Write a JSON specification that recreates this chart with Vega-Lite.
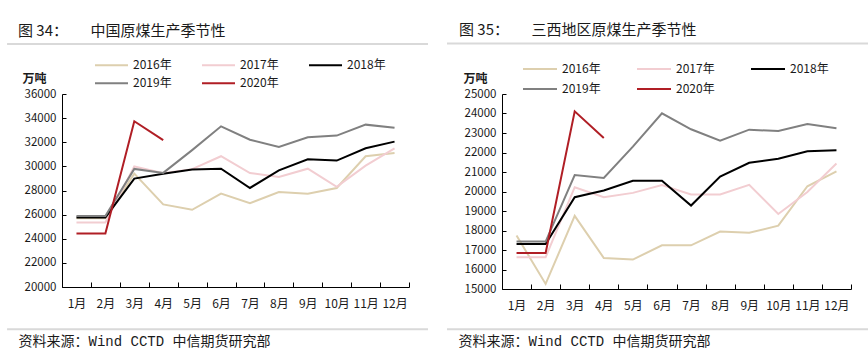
{
  "$schema": "https://vega.github.io/schema/vega-lite/v6.json",
  "autosize": {"type": "none"},
  "padding": {"left": 62, "top": 94, "right": 806, "bottom": 264},
  "background": "white",
  "bounds": "flush",
  "spacing": 93,
  "resolve": {"scale": {"color": "independent"}, "legend": {"color": "independent"}},
  "config": {
    "font": "Noto Sans CJK SC",
    "view": {"stroke": null},
    "axis": {"grid": false, "domainColor": "#000000", "tickColor": "#000000", "labelColor": "#1a1a1a", "labelFont": "Noto Sans CJK SC", "tickCount": 100, "labelOverlap": false},
    "legend": {"orient": "none", "direction": "horizontal", "title": null, "symbolType": "stroke", "symbolStrokeWidth": 2, "labelFontSize": 12, "labelOffset": 4, "labelColor": "#1a1a1a", "labelFont": "Noto Sans CJK SC"},
    "title": {"font": "Noto Sans CJK SC", "fontSize": 15, "fontWeight": "normal", "color": "#1a1a1a", "anchor": "start", "frame": "group"}
  },
  "datasets": {
    "cn": [
      {"year": "2016年", "month": 1, "value": 25700}, {"year": "2016年", "month": 2, "value": 25700}, {"year": "2016年", "month": 3, "value": 29400}, {"year": "2016年", "month": 4, "value": 26850}, {"year": "2016年", "month": 5, "value": 26400}, {"year": "2016年", "month": 6, "value": 27740}, {"year": "2016年", "month": 7, "value": 26950}, {"year": "2016年", "month": 8, "value": 27880}, {"year": "2016年", "month": 9, "value": 27740}, {"year": "2016年", "month": 10, "value": 28210}, {"year": "2016年", "month": 11, "value": 30840}, {"year": "2016年", "month": 12, "value": 31110},
      {"year": "2017年", "month": 1, "value": 25350}, {"year": "2017年", "month": 2, "value": 25350}, {"year": "2017年", "month": 3, "value": 29990}, {"year": "2017年", "month": 4, "value": 29430}, {"year": "2017年", "month": 5, "value": 29770}, {"year": "2017年", "month": 6, "value": 30840}, {"year": "2017年", "month": 7, "value": 29450}, {"year": "2017年", "month": 8, "value": 29120}, {"year": "2017年", "month": 9, "value": 29810}, {"year": "2017年", "month": 10, "value": 28300}, {"year": "2017年", "month": 11, "value": 30060}, {"year": "2017年", "month": 12, "value": 31500},
      {"year": "2018年", "month": 1, "value": 25770}, {"year": "2018年", "month": 2, "value": 25770}, {"year": "2018年", "month": 3, "value": 28990}, {"year": "2018年", "month": 4, "value": 29380}, {"year": "2018年", "month": 5, "value": 29740}, {"year": "2018年", "month": 6, "value": 29810}, {"year": "2018年", "month": 7, "value": 28210}, {"year": "2018年", "month": 8, "value": 29670}, {"year": "2018年", "month": 9, "value": 30590}, {"year": "2018年", "month": 10, "value": 30480}, {"year": "2018年", "month": 11, "value": 31500}, {"year": "2018年", "month": 12, "value": 32050},
      {"year": "2019年", "month": 1, "value": 25880}, {"year": "2019年", "month": 2, "value": 25880}, {"year": "2019年", "month": 3, "value": 29790}, {"year": "2019年", "month": 4, "value": 29460}, {"year": "2019年", "month": 5, "value": 31350}, {"year": "2019年", "month": 6, "value": 33320}, {"year": "2019年", "month": 7, "value": 32210}, {"year": "2019年", "month": 8, "value": 31610}, {"year": "2019年", "month": 9, "value": 32410}, {"year": "2019年", "month": 10, "value": 32550}, {"year": "2019年", "month": 11, "value": 33460}, {"year": "2019年", "month": 12, "value": 33210},
      {"year": "2020年", "month": 1, "value": 24440}, {"year": "2020年", "month": 2, "value": 24440}, {"year": "2020年", "month": 3, "value": 33740}, {"year": "2020年", "month": 4, "value": 32170}
    ],
    "sx": [
      {"year": "2016年", "month": 1, "value": 17740}, {"year": "2016年", "month": 2, "value": 15260}, {"year": "2016年", "month": 3, "value": 18750}, {"year": "2016年", "month": 4, "value": 16590}, {"year": "2016年", "month": 5, "value": 16510}, {"year": "2016年", "month": 6, "value": 17240}, {"year": "2016年", "month": 7, "value": 17240}, {"year": "2016年", "month": 8, "value": 17950}, {"year": "2016年", "month": 9, "value": 17880}, {"year": "2016年", "month": 10, "value": 18250}, {"year": "2016年", "month": 11, "value": 20270}, {"year": "2016年", "month": 12, "value": 21030},
      {"year": "2017年", "month": 1, "value": 16630}, {"year": "2017年", "month": 2, "value": 16630}, {"year": "2017年", "month": 3, "value": 20220}, {"year": "2017年", "month": 4, "value": 19710}, {"year": "2017年", "month": 5, "value": 19930}, {"year": "2017年", "month": 6, "value": 20330}, {"year": "2017年", "month": 7, "value": 19850}, {"year": "2017年", "month": 8, "value": 19850}, {"year": "2017年", "month": 9, "value": 20340}, {"year": "2017年", "month": 10, "value": 18850}, {"year": "2017年", "month": 11, "value": 19970}, {"year": "2017年", "month": 12, "value": 21440},
      {"year": "2018年", "month": 1, "value": 17310}, {"year": "2018年", "month": 2, "value": 17310}, {"year": "2018年", "month": 3, "value": 19710}, {"year": "2018年", "month": 4, "value": 20050}, {"year": "2018年", "month": 5, "value": 20550}, {"year": "2018年", "month": 6, "value": 20550}, {"year": "2018年", "month": 7, "value": 19280}, {"year": "2018年", "month": 8, "value": 20770}, {"year": "2018年", "month": 9, "value": 21470}, {"year": "2018年", "month": 10, "value": 21680}, {"year": "2018年", "month": 11, "value": 22060}, {"year": "2018年", "month": 12, "value": 22110},
      {"year": "2019年", "month": 1, "value": 17430}, {"year": "2019年", "month": 2, "value": 17430}, {"year": "2019年", "month": 3, "value": 20840}, {"year": "2019年", "month": 4, "value": 20690}, {"year": "2019年", "month": 5, "value": 22300}, {"year": "2019年", "month": 6, "value": 24010}, {"year": "2019年", "month": 7, "value": 23190}, {"year": "2019年", "month": 8, "value": 22600}, {"year": "2019年", "month": 9, "value": 23170}, {"year": "2019年", "month": 10, "value": 23100}, {"year": "2019年", "month": 11, "value": 23460}, {"year": "2019年", "month": 12, "value": 23240},
      {"year": "2020年", "month": 1, "value": 16850}, {"year": "2020年", "month": 2, "value": 16850}, {"year": "2020年", "month": 3, "value": 24110}, {"year": "2020年", "month": 4, "value": 22740}
    ]
  },
  "hconcat": [
    {
      "width": 347,
      "height": 193,
      "title": {"text": "图 34：\u3000\u3000中国原煤生产季节性", "dx": -44, "offset": 4},
      "resolve": {"scale": {"color": "independent"}, "legend": {"color": "independent"}},
      "layer": [
        {
          "data": {"name": "cn"},
          "transform": [{"filter": {"field": "year", "oneOf": ["2016年", "2017年", "2018年"]}}],
          "mark": {"type": "line", "strokeWidth": 2},
          "encoding": {
            "x": {
              "field": "month", "type": "quantitative",
              "scale": {"domain": [0.5, 12.5], "nice": false, "zero": false},
              "axis": {
                "values": [0.5, 1, 1.5, 2, 2.5, 3, 3.5, 4, 4.5, 5, 5.5, 6, 6.5, 7, 7.5, 8, 8.5, 9, 9.5, 10, 10.5, 11, 11.5, 12, 12.5],
                "labelExpr": "datum.value % 1 == 0 ? datum.value + '月' : ''",
                "labelOverlap": false, "labelFlush": false, "tickCount": 100,
                "labelFontSize": 12, "labelPadding": 16,
                "tickSize": -5,
                "tickOpacity": {"condition": {"test": "datum.value % 1 != 0", "value": 1}, "value": 0},
                "title": "资料来源：Wind CCTD 中信期货研究部",
                "titleX": -44, "titleY": 54, "titleAlign": "left", "titleBaseline": "middle",
                "titleFont": "Liberation Mono, Noto Sans CJK SC", "titleFontSize": 14, "titleFontWeight": "normal", "titleColor": "#1a1a1a"
              }
            },
            "y": {
              "field": "value", "type": "quantitative",
              "scale": {"domain": [20000, 36000], "nice": false, "zero": false},
              "axis": {
                "values": [20000, 22000, 24000, 26000, 28000, 30000, 32000, 34000, 36000],
                "format": "d", "labelFontSize": 11.5, "labelPadding": 10, "tickSize": -4, "tickCount": 100, "labelOverlap": false,
                "title": "万吨", "titleAngle": 0, "titleX": -40, "titleY": -16, "titleAlign": "left", "titleBaseline": "middle",
                "titleFontSize": 12, "titleFontWeight": "bold", "titleColor": "#1a1a1a"
              }
            },
            "color": {
              "field": "year", "type": "nominal",
              "scale": {"domain": ["2016年", "2017年", "2018年"], "range": ["#ddcfae", "#f2cdd1", "#000000"]},
              "legend": {"legendX": 32, "legendY": -46.5, "symbolSize": 1089, "columnPadding": 26}
            }
          }
        },
        {
          "data": {"name": "cn"},
          "transform": [{"filter": {"field": "year", "oneOf": ["2019年", "2020年"]}}],
          "mark": {"type": "line", "strokeWidth": 2},
          "encoding": {
            "x": {
              "field": "month", "type": "quantitative",
              "scale": {"domain": [0.5, 12.5], "nice": false, "zero": false},
              "axis": {
                "values": [0.5, 1, 1.5, 2, 2.5, 3, 3.5, 4, 4.5, 5, 5.5, 6, 6.5, 7, 7.5, 8, 8.5, 9, 9.5, 10, 10.5, 11, 11.5, 12, 12.5],
                "labelExpr": "datum.value % 1 == 0 ? datum.value + '月' : ''",
                "labelOverlap": false, "labelFlush": false, "tickCount": 100,
                "labelFontSize": 12, "labelPadding": 16,
                "tickSize": -5,
                "tickOpacity": {"condition": {"test": "datum.value % 1 != 0", "value": 1}, "value": 0},
                "title": "资料来源：Wind CCTD 中信期货研究部",
                "titleX": -44, "titleY": 54, "titleAlign": "left", "titleBaseline": "middle",
                "titleFont": "Liberation Mono, Noto Sans CJK SC", "titleFontSize": 14, "titleFontWeight": "normal", "titleColor": "#1a1a1a"
              }
            },
            "y": {
              "field": "value", "type": "quantitative",
              "scale": {"domain": [20000, 36000], "nice": false, "zero": false},
              "axis": {
                "values": [20000, 22000, 24000, 26000, 28000, 30000, 32000, 34000, 36000],
                "format": "d", "labelFontSize": 11.5, "labelPadding": 10, "tickSize": -4, "tickCount": 100, "labelOverlap": false,
                "title": "万吨", "titleAngle": 0, "titleX": -40, "titleY": -16, "titleAlign": "left", "titleBaseline": "middle",
                "titleFontSize": 12, "titleFontWeight": "bold", "titleColor": "#1a1a1a"
              }
            },
            "color": {
              "field": "year", "type": "nominal",
              "scale": {"domain": ["2019年", "2020年"], "range": ["#808080", "#b01e25"]},
              "legend": {"legendX": 32, "legendY": -28.5, "symbolSize": 1089, "columnPadding": 26}
            }
          }
        },
        {
          "data": {"values": [{}]},
          "mark": {"type": "rule", "color": "#d9d9d9", "strokeWidth": 2},
          "encoding": {"x": {"datum": -1.4, "type": "quantitative"}, "x2": {"datum": 13.157}, "y": {"datum": 40145, "type": "quantitative"}}
        },
        {
          "data": {"values": [{}]},
          "mark": {"type": "rule", "color": "#d9d9d9", "strokeWidth": 2},
          "encoding": {"x": {"datum": -1.4, "type": "quantitative"}, "x2": {"datum": 13.157}, "y": {"datum": 16493, "type": "quantitative"}}
        }
      ]
    },
    {
      "width": 349,
      "height": 195,
      "title": {"text": "图 35：\u3000\u3000三西地区原煤生产季节性", "dx": -43, "offset": 4},
      "resolve": {"scale": {"color": "independent"}, "legend": {"color": "independent"}},
      "layer": [
        {
          "data": {"name": "sx"},
          "transform": [{"filter": {"field": "year", "oneOf": ["2016年", "2017年", "2018年"]}}],
          "mark": {"type": "line", "strokeWidth": 2},
          "encoding": {
            "x": {
              "field": "month", "type": "quantitative",
              "scale": {"domain": [0.5, 12.5], "nice": false, "zero": false},
              "axis": {
                "values": [0.5, 1, 1.5, 2, 2.5, 3, 3.5, 4, 4.5, 5, 5.5, 6, 6.5, 7, 7.5, 8, 8.5, 9, 9.5, 10, 10.5, 11, 11.5, 12, 12.5],
                "labelExpr": "datum.value % 1 == 0 ? datum.value + '月' : ''",
                "labelOverlap": false, "labelFlush": false, "tickCount": 100,
                "labelFontSize": 12, "labelPadding": 16,
                "tickSize": -5,
                "tickOpacity": {"condition": {"test": "datum.value % 1 != 0", "value": 1}, "value": 0},
                "title": "资料来源：Wind CCTD 中信期货研究部",
                "titleX": -44, "titleY": 52, "titleAlign": "left", "titleBaseline": "middle",
                "titleFont": "Liberation Mono, Noto Sans CJK SC", "titleFontSize": 14, "titleFontWeight": "normal", "titleColor": "#1a1a1a"
              }
            },
            "y": {
              "field": "value", "type": "quantitative",
              "scale": {"domain": [15000, 25000], "nice": false, "zero": false},
              "axis": {
                "values": [15000, 16000, 17000, 18000, 19000, 20000, 21000, 22000, 23000, 24000, 25000],
                "format": "d", "labelFontSize": 11.5, "labelPadding": 10, "tickSize": -4, "tickCount": 100, "labelOverlap": false,
                "title": "万吨", "titleAngle": 0, "titleX": -39, "titleY": -16, "titleAlign": "left", "titleBaseline": "middle",
                "titleFontSize": 12, "titleFontWeight": "bold", "titleColor": "#1a1a1a"
              }
            },
            "color": {
              "field": "year", "type": "nominal",
              "scale": {"domain": ["2016年", "2017年", "2018年"], "range": ["#ddcfae", "#f2cdd1", "#000000"]},
              "legend": {"legendX": 20, "legendY": -43, "symbolSize": 1156, "columnPadding": 32}
            }
          }
        },
        {
          "data": {"name": "sx"},
          "transform": [{"filter": {"field": "year", "oneOf": ["2019年", "2020年"]}}],
          "mark": {"type": "line", "strokeWidth": 2},
          "encoding": {
            "x": {
              "field": "month", "type": "quantitative",
              "scale": {"domain": [0.5, 12.5], "nice": false, "zero": false},
              "axis": {
                "values": [0.5, 1, 1.5, 2, 2.5, 3, 3.5, 4, 4.5, 5, 5.5, 6, 6.5, 7, 7.5, 8, 8.5, 9, 9.5, 10, 10.5, 11, 11.5, 12, 12.5],
                "labelExpr": "datum.value % 1 == 0 ? datum.value + '月' : ''",
                "labelOverlap": false, "labelFlush": false, "tickCount": 100,
                "labelFontSize": 12, "labelPadding": 16,
                "tickSize": -5,
                "tickOpacity": {"condition": {"test": "datum.value % 1 != 0", "value": 1}, "value": 0},
                "title": "资料来源：Wind CCTD 中信期货研究部",
                "titleX": -44, "titleY": 52, "titleAlign": "left", "titleBaseline": "middle",
                "titleFont": "Liberation Mono, Noto Sans CJK SC", "titleFontSize": 14, "titleFontWeight": "normal", "titleColor": "#1a1a1a"
              }
            },
            "y": {
              "field": "value", "type": "quantitative",
              "scale": {"domain": [15000, 25000], "nice": false, "zero": false},
              "axis": {
                "values": [15000, 16000, 17000, 18000, 19000, 20000, 21000, 22000, 23000, 24000, 25000],
                "format": "d", "labelFontSize": 11.5, "labelPadding": 10, "tickSize": -4, "tickCount": 100, "labelOverlap": false,
                "title": "万吨", "titleAngle": 0, "titleX": -39, "titleY": -16, "titleAlign": "left", "titleBaseline": "middle",
                "titleFontSize": 12, "titleFontWeight": "bold", "titleColor": "#1a1a1a"
              }
            },
            "color": {
              "field": "year", "type": "nominal",
              "scale": {"domain": ["2019年", "2020年"], "range": ["#808080", "#b01e25"]},
              "legend": {"legendX": 20, "legendY": -23, "symbolSize": 1156, "columnPadding": 32}
            }
          }
        },
        {
          "data": {"values": [{}]},
          "mark": {"type": "rule", "color": "#d9d9d9", "strokeWidth": 2},
          "encoding": {"x": {"datum": -1.391, "type": "quantitative"}, "x2": {"datum": 13.3}, "y": {"datum": 27590, "type": "quantitative"}}
        },
        {
          "data": {"values": [{}]},
          "mark": {"type": "rule", "color": "#d9d9d9", "strokeWidth": 2},
          "encoding": {"x": {"datum": -1.391, "type": "quantitative"}, "x2": {"datum": 13.3}, "y": {"datum": 12933, "type": "quantitative"}}
        }
      ]
    }
  ]
}
